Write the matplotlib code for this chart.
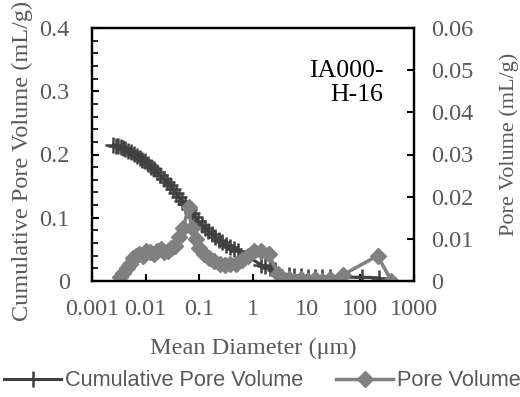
import matplotlib
matplotlib.use("Agg")
import matplotlib.pyplot as plt
from matplotlib.ticker import FixedLocator, NullLocator, FixedFormatter

# Cumulative pore volume (left axis)
cum_diam = [0.0025, 0.0028, 0.0031, 0.0034, 0.0038, 0.0042, 0.0047, 0.0053, 0.0060, 0.0068,
            0.0077, 0.0087, 0.0099, 0.0112, 0.0127, 0.0145, 0.0165, 0.0188, 0.0215, 0.0245,
            0.028, 0.032, 0.037, 0.042, 0.048, 0.055, 0.063, 0.072, 0.083, 0.095,
            0.11, 0.127, 0.147, 0.17, 0.197, 0.23, 0.27, 0.32, 0.38, 0.45, 0.53,
            1.4, 1.7, 2.1, 2.6, 4.6, 5.9, 7.9, 10.7, 14, 19, 27, 107, 220]
cum_vol = [0.215, 0.214, 0.213, 0.212, 0.210, 0.208, 0.206, 0.204, 0.201, 0.198,
           0.195, 0.192, 0.189, 0.185, 0.181, 0.177, 0.172, 0.167, 0.162, 0.157,
           0.151, 0.145, 0.139, 0.133, 0.127, 0.121, 0.114, 0.107, 0.101, 0.095,
           0.089, 0.084, 0.079, 0.074, 0.069, 0.065, 0.061, 0.057, 0.053, 0.050, 0.047,
           0.026, 0.023, 0.020, 0.017, 0.009, 0.008, 0.008, 0.007, 0.007, 0.007, 0.006, 0.006, 0.005]

# Incremental pore volume (right axis)
pv_diam = [0.0033, 0.0038, 0.0044, 0.0050, 0.0057, 0.0066, 0.0076, 0.0088, 0.010, 0.012,
           0.014, 0.016, 0.019, 0.022, 0.026, 0.030, 0.035, 0.042, 0.050, 0.063,
           0.072, 0.085, 0.10, 0.12, 0.15, 0.19, 0.24, 0.30, 0.38, 0.48,
           0.62, 0.80, 1.05, 1.4, 2.0, 2.9, 4.6, 5.9, 7.9, 10.7,
           14, 19, 27, 48, 210, 380]
pv_vol = [0.0010, 0.0020, 0.0030, 0.0040, 0.0055, 0.0060, 0.0065, 0.0060, 0.0072, 0.0068,
          0.0065, 0.0072, 0.0075, 0.0068, 0.0072, 0.0078, 0.0082, 0.0105, 0.0125, 0.0175,
          0.0125, 0.0100, 0.0078, 0.0065, 0.0055, 0.0047, 0.0041, 0.0038, 0.0040, 0.0041,
          0.0050, 0.0060, 0.0070, 0.0070, 0.0063, 0.0016, 0.0004, 0.0, 0.0004, 0.0,
          0.0004, 0.0, 0.0004, 0.0015, 0.0060, 0.0]

x_ticks = [0.001, 0.01, 0.1, 1, 10, 100, 1000]
x_labels = ["0.001", "0.01", "0.1", "1", "10", "100", "1000"]
left_ticks = [0, 0.1, 0.2, 0.3, 0.4]
left_labels = ["0", "0.1", "0.2", "0.3", "0.4"]
right_ticks = [0, 0.01, 0.02, 0.03, 0.04, 0.05, 0.06]
right_labels = ["0", "0.01", "0.02", "0.03", "0.04", "0.05", "0.06"]

TXT = "#595959"
serif = "Liberation Serif"
fs = 17.5

fig = plt.figure(figsize=(5.2, 3.97), dpi=100)
ax = fig.add_axes([92/520, 1-281/397, 322/520, 253/397])
ax2 = ax.twinx()

l1, = ax.plot(cum_diam, cum_vol, color="#404040", lw=2.2, marker="+", ms=11, mew=1.8,
              label="Cumulative Pore Volume")
l2, = ax2.plot(pv_diam, pv_vol, color="#808080", lw=2.5, marker="D", ms=8,
               label="Pore Volume")

ax.set_xscale("log")
ax.set_xlim(0.001, 1000)
ax.set_ylim(0, 0.4)
ax2.set_ylim(0, 0.06)

ax.xaxis.set_major_locator(FixedLocator(x_ticks))
ax.xaxis.set_major_formatter(FixedFormatter(x_labels))
ax.xaxis.set_minor_locator(NullLocator())
ax.yaxis.set_major_locator(FixedLocator(left_ticks))
ax.yaxis.set_major_formatter(FixedFormatter(left_labels))
ax.yaxis.set_minor_locator(FixedLocator([0.02, 0.04, 0.06, 0.08, 0.12, 0.14, 0.16, 0.18,
                                         0.22, 0.24, 0.26, 0.28, 0.32, 0.34, 0.36, 0.38]))
ax2.yaxis.set_major_locator(FixedLocator(right_ticks))
ax2.yaxis.set_major_formatter(FixedFormatter(right_labels))
ax2.yaxis.set_minor_locator(NullLocator())

ax.tick_params(axis="x", which="major", direction="in", length=5, width=1.5,
               labelsize=fs, labelcolor=TXT, pad=13)
ax.tick_params(axis="y", which="major", direction="in", length=5, width=1.5,
               labelsize=fs, labelcolor=TXT, pad=16)
ax.tick_params(axis="y", which="minor", direction="in", length=4, width=1.2)
ax2.tick_params(axis="y", which="major", direction="in", length=5, width=1.5,
                labelsize=fs, labelcolor=TXT, pad=12)
for t in ax.get_xticklabels() + ax.get_yticklabels() + ax2.get_yticklabels():
    t.set_fontfamily(serif)

for a in (ax, ax2):
    for s in a.spines.values():
        s.set_linewidth(1.6)
        s.set_color("black")

ax.set_xlabel("Mean Diameter (\u03bcm)", fontsize=fs, color=TXT, family=serif, labelpad=13)
fig.text(22/520, 1-161/397, "Cumulative Pore Volume (mL/g)", rotation=90, ha="center",
         va="center", fontsize=fs, color=TXT, family=serif)
fig.text(509/520, 1-144/397, "Pore Volume (mL/g)", rotation=90, ha="center",
         va="center", fontsize=16, color=TXT, family=serif)

ax.text(0.905, 0.875, "IA000-\nH-16", transform=ax.transAxes, ha="right", va="top",
        fontsize=18.5, family=serif, color="black", linespacing=1.15)

fig.legend(handles=[l1, l2], loc="lower center", bbox_to_anchor=(0.505, -0.035), ncol=2,
           frameon=False, handlelength=2.6, handletextpad=0.2, columnspacing=1.5,
           prop={"family": "Liberation Sans", "size": 15.7}, labelcolor=TXT)

fig.savefig("out.png", dpi=100)
